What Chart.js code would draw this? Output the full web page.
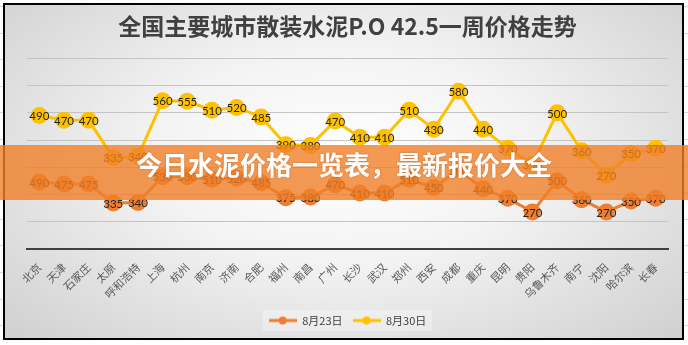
<!DOCTYPE html>
<html>
<head>
<meta charset="utf-8">
<script src="https://cdn.jsdelivr.net/npm/chart.js@4/dist/chart.umd.min.js"></script>
<style>
  html, body { margin: 0; padding: 0; }
  body {
    width: 688px; height: 345px; position: relative; overflow: hidden;
    background: repeating-linear-gradient(to bottom, #fff 0px, #fff 6px, #d8d8d8 6px, #d8d8d8 7px, #fff 7px, #fff 26.6px);
  }
  #frame {
    position: absolute; left: 3px; top: 3px; width: 677px; height: 333px;
    border: 2px solid #000;
    background: radial-gradient(ellipse 70% 80% at 50% 45%, #ffffff 0%, #f3f3f3 40%, #cfcfcf 100%);
  }
  #frame canvas { display: block; }
  #banner {
    position: absolute; left: 0; top: 145px; width: 688px; height: 55px;
    background: rgba(240, 128, 40, 0.8);
    color: #fff; text-align: center; line-height: 55px;
    font: bold 26px "Noto Sans CJK SC", sans-serif;
    text-shadow: 0 0 2px rgba(160, 70, 10, 0.5);
  }
</style>
</head>
<body>
<div id="frame"><canvas id="priceChart" width="677" height="333"></canvas></div>
<div id="banner">今日水泥价格一览表，最新报价大全</div>
<script>
const cities = ['北京', '天津', '石家庄', '太原', '呼和浩特', '上海', '杭州', '南京', '济南', '合肥',
  '福州', '南昌', '广州', '长沙', '武汉', '郑州', '西安', '成都', '重庆', '昆明',
  '贵阳', '乌鲁木齐', '南宁', '沈阳', '哈尔滨', '长春'];
const aug23 = [490, 475, 475, 335, 340, 530, 530, 510, 520, 485,
  375, 380, 470, 410, 410, 510, 450, 580, 440, 370,
  270, 500, 360, 270, 350, 370];
const aug30 = [490, 470, 470, 335, 340, 560, 555, 510, 520, 485,
  390, 380, 470, 410, 410, 510, 430, 580, 440, 370,
  350, 500, 360, 270, 350, 370];
const seriesNames = ['8月23日', '8月30日'];
const colors = ['#ED7D31', '#FFC000'];

// small line-with-dot swatch for the legend
function legendSwatch(color) {
  const c = document.createElement('canvas');
  c.width = 28; c.height = 10;
  const g = c.getContext('2d');
  g.strokeStyle = color; g.lineWidth = 3;
  g.beginPath(); g.moveTo(0, 5); g.lineTo(28, 5); g.stroke();
  g.fillStyle = color;
  g.beginPath(); g.arc(14, 5, 4, 0, Math.PI * 2); g.fill();
  return c;
}

// value text centred in each marker
const pointLabels = {
  id: 'pointLabels',
  afterDatasetsDraw(chart) {
    const ctx = chart.ctx;
    ctx.save();
    ctx.font = '11.5px Lato';
    ctx.fillStyle = '#262626';
    ctx.textAlign = 'center';
    ctx.textBaseline = 'middle';
    chart.data.datasets.forEach((ds, i) => {
      chart.getDatasetMeta(i).data.forEach((pt, j) => {
        ctx.fillText(ds.data[j], pt.x, pt.y + 1);
      });
    });
    ctx.restore();
  }
};

// faint box behind the legend items
const legendBox = {
  id: 'legendBox',
  beforeDraw(chart) {
    const boxes = chart.legend && chart.legend.legendHitBoxes;
    if (!boxes || !boxes.length) return;
    const l = Math.min(...boxes.map(b => b.left)) - 6;
    const r = Math.max(...boxes.map(b => b.left + b.width)) + 6;
    const t = Math.min(...boxes.map(b => b.top)) - 5;
    const btm = Math.max(...boxes.map(b => b.top + b.height)) + 5;
    const ctx = chart.ctx;
    ctx.save();
    ctx.fillStyle = 'rgba(255,255,255,0.3)';
    ctx.fillRect(l, t, r - l, btm - t);
    ctx.restore();
  }
};

const ctx = document.getElementById('priceChart').getContext('2d');
new Chart(ctx, {
  type: 'line',
  data: {
    labels: cities,
    datasets: [aug23, aug30].map((vals, i) => ({
      label: seriesNames[i],
      data: vals,
      borderColor: colors[i],
      backgroundColor: colors[i],
      borderWidth: 3,
      pointRadius: 8.5,
      pointHoverRadius: 8.5,
      pointBorderWidth: 0,
      tension: 0,
      fill: false
    }))
  },
  options: {
    responsive: false,
    animation: false,
    events: [],
    layout: { padding: { left: 22, right: 14, top: 0, bottom: 2 } },
    scales: {
      x: {
        offset: true,
        grid: { display: false },
        border: { color: '#404040', width: 2 },
        ticks: {
          minRotation: 45, maxRotation: 45, padding: 4,
          color: '#595959',
          font: { family: 'Noto Sans CJK SC', size: 11 }
        }
      },
      y: {
        stacked: true,
        min: 0, max: 1400,
        ticks: { display: false, stepSize: 200 },
        border: { display: false },
        grid: {
          drawTicks: false,
          color: c => c.tick.value === 0 ? '#404040' : '#c4c4c4',
          lineWidth: c => c.tick.value === 0 ? 2 : 1
        }
      }
    },
    plugins: {
      title: {
        display: true,
        text: '全国主要城市散装水泥P.O 42.5一周价格走势',
        color: '#404040',
        font: { family: 'Noto Sans CJK SC', size: 23, weight: 'bold' },
        padding: { top: 7, bottom: 19 }
      },
      legend: {
        position: 'bottom',
        labels: {
          usePointStyle: true,
          pointStyleWidth: 28,
          color: '#404040',
          font: { family: 'Noto Sans CJK SC', size: 11 },
          padding: 10,
          generateLabels: chart => chart.data.datasets.map((ds, i) => ({
            text: ds.label,
            pointStyle: legendSwatch(colors[i]),
            fillStyle: colors[i],
            strokeStyle: colors[i],
            lineWidth: 0,
            fontColor: '#404040',
            datasetIndex: i
          }))
        }
      },
      tooltip: { enabled: false }
    }
  },
  plugins: [legendBox, pointLabels]
});
</script>
</body>
</html>
